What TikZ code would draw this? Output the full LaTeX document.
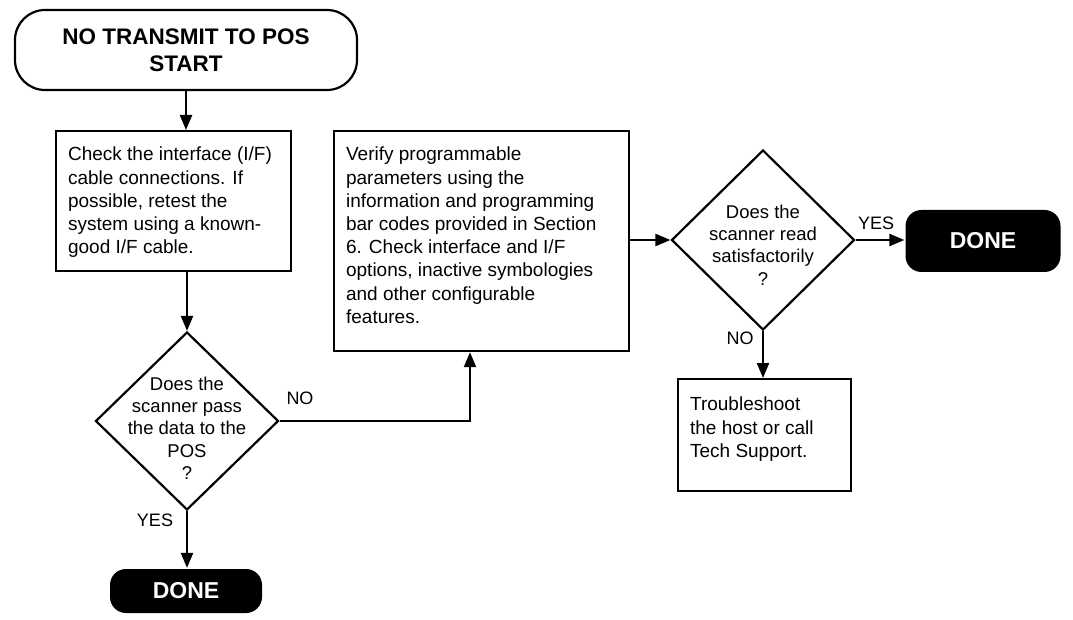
\documentclass[tikz,border=0pt]{standalone}
\usepackage{fontspec}
\setmainfont{Liberation Sans}
\usetikzlibrary{arrows.meta,shapes.geometric}
\begin{document}
\begin{tikzpicture}[x=1pt,y=-1pt,
  line width=2.2pt,
  arr/.style={-{Triangle[length=15pt,width=12pt]}},
  txt/.style={font=\fontsize{19}{23.2}\selectfont,align=left,anchor=north west,inner sep=0pt},
  lbl/.style={font=\fontsize{18}{20}\selectfont},
  dtxt/.style={font=\fontsize{18.5}{22.3}\selectfont,align=center,inner sep=0pt},
  done/.style={fill=black,rounded corners=16pt,text=white,font=\fontsize{23}{26}\selectfont\bfseries},
  dia/.style={draw,diamond,aspect=1,inner sep=0pt}]
\useasboundingbox (0,0) rectangle (1073,620);
\node[draw,rounded corners=30pt,minimum width=342pt,minimum height=80pt,align=center,font=\fontsize{22.5}{27}\selectfont\bfseries] (start) at (186,50) {NO TRANSMIT TO POS\\START};
\node[draw,minimum width=235pt,minimum height=140pt,anchor=north west] (b1) at (55,130) {};
\node[txt] (t1) at (67,146) {Check the interface (I/F)\\cable connections. If\\possible, retest the\\system using a known-\\good I/F cable.};
\node[dia,minimum width=183pt,minimum height=178pt] (d1) at (187,421) {};
\node[dtxt] (dt1) at (187,428) {Does the\\scanner pass\\the data to the\\POS\\?};
\node[done,minimum width=152pt,minimum height=44pt] (done1) at (186,591) {DONE};
\node[draw,minimum width=295pt,minimum height=220pt,anchor=north west] (b2) at (333,130) {};
\node[txt] (t2) at (345,146) {Verify programmable\\parameters using the\\information and programming\\bar codes provided in Section\\6. Check interface and I/F\\options, inactive symbologies\\and other configurable\\features.};
\node[dia,minimum width=183pt,minimum height=180pt] (d2) at (763,240) {};
\node[dtxt] (dt2) at (763,245) {Does the\\scanner read\\satisfactorily\\?};
\node[done,minimum width=155pt,minimum height=62pt] (done2) at (983,241) {DONE};
\node[draw,minimum width=173pt,minimum height=112pt,anchor=north west] (b3) at (677,378) {};
\node[txt] (t3) at (689,396) {Troubleshoot\\the host or call\\Tech Support.};
\draw[arr] (start.south) -- (b1.north -| start.south);
\draw[arr] (b1.south -| d1.north) -- (d1.north);
\draw[arr] (d1.south) -- (done1.north -| d1.south);
\coordinate (c1) at (470,421);
\draw[arr] (d1.east) -- (c1) -- (c1 |- b2.south);
\draw[arr] (b2.east |- d2.west) -- (d2.west);
\draw[arr] (d2.east) -- (done2.west |- d2.east);
\draw[arr] (d2.south) -- (b3.north -| d2.south);
\node[lbl] (y1) at (155,520) {YES};
\node[lbl] (n1) at (300,398) {NO};
\node[lbl] (y2) at (876,223) {YES};
\node[lbl] (n2) at (740,338) {NO};
\end{tikzpicture}
\end{document}
